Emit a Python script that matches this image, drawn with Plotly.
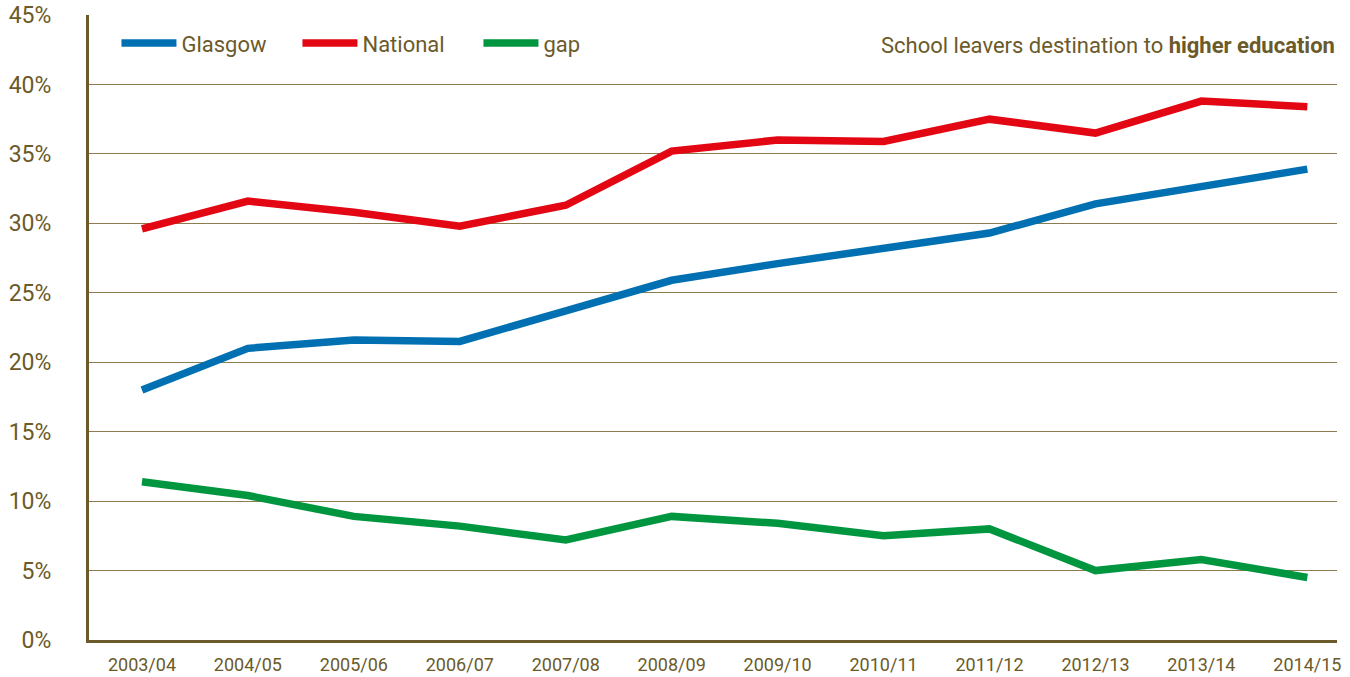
import plotly.graph_objects as go

years = ["2003/04", "2004/05", "2005/06", "2006/07", "2007/08", "2008/09",
         "2009/10", "2010/11", "2011/12", "2012/13", "2013/14", "2014/15"]
glasgow = [18.0, 21.0, 21.6, 21.5, 23.7, 25.9, 27.1, 28.2, 29.3, 31.4, 32.6, 33.9]
national = [29.6, 31.6, 30.8, 29.8, 31.3, 35.2, 36.0, 35.9, 37.5, 36.5, 38.8, 38.4]
gap = [11.4, 10.4, 8.9, 8.2, 7.2, 8.9, 8.4, 7.5, 8.0, 5.0, 5.8, 4.5]
y_ticks = [0, 5, 10, 15, 20, 25, 30, 35, 40, 45]
y_tick_text = [f"{v}%" for v in y_ticks]

TXT = "#6b5a2a"
FONT = "Liberation Sans Narrow, Roboto, Arial"

fig = go.Figure()
for name, vals, col in [("Glasgow", glasgow, "#0070b3"),
                        ("National", national, "#e30613"),
                        ("gap", gap, "#009640")]:
    fig.add_trace(go.Scatter(x=years, y=vals, mode="lines", name=name,
                             line=dict(color=col, width=7.5)))

fig.update_layout(
    width=1350, height=677,
    margin=dict(l=89, r=13, t=15, b=37, autoexpand=False),
    paper_bgcolor="white", plot_bgcolor="white",
    font=dict(family=FONT, color=TXT, size=22),
    showlegend=True,
    legend=dict(orientation="h", x=0.022, y=0.955, xanchor="left", yanchor="middle",
                font=dict(size=22, color=TXT, family=FONT),
                bgcolor="rgba(0,0,0,0)", itemwidth=55, tracegroupgap=0,
                entrywidth=111, entrywidthmode="pixels"),
    xaxis=dict(type="category", range=[-0.5, 11.28], showgrid=False,
               showline=True, linecolor=TXT, linewidth=3, ticks="",
               automargin=False,
               tickfont=dict(size=18, color=TXT, family=FONT),
               ticklabelstandoff=6),
    yaxis=dict(range=[0, 45], tickvals=y_ticks, ticktext=y_tick_text,
               showgrid=True, gridcolor="#8c7c50", gridwidth=1,
               showline=True, linecolor=TXT, linewidth=3, ticks="",
               zeroline=False, automargin=False,
               tickfont=dict(size=23, color=TXT, family=FONT),
               ticklabelstandoff=30),
    annotations=[dict(text="School leavers destination to <b>higher education</b>",
                      xref="paper", yref="paper", x=1.0, y=0.952,
                      xanchor="right", yanchor="middle", showarrow=False,
                      font=dict(size=22, color=TXT, family=FONT))],
)

fig.write_html("out.html")
